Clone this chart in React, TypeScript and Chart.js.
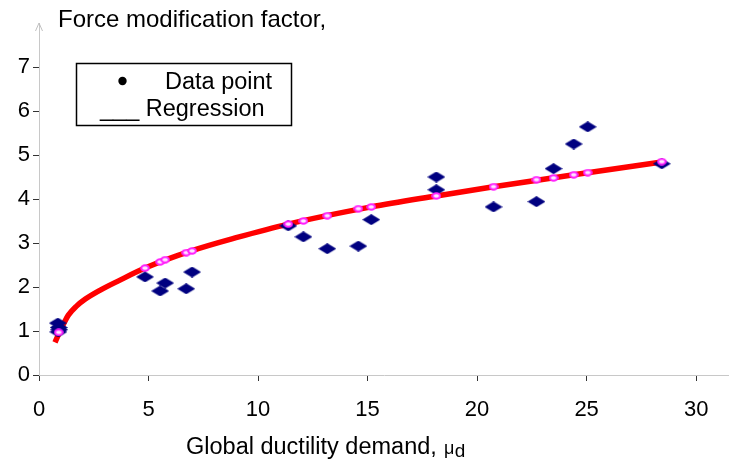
import React, { useEffect, useRef } from "react";
import { Chart, registerables } from "chart.js";

Chart.register(...registerables);

// Observed data points (diamonds)
const dataX = [0.86, 0.9, 0.88, 0.92, 4.84, 5.76, 5.53, 6.72, 6.99, 11.38, 12.07, 13.16, 14.58, 15.17, 18.14, 18.14, 20.75, 22.71, 23.49, 24.41, 25.05, 28.43];
const dataY = [1.18, 1.08, 0.98, 1.03, 2.23, 2.09, 1.91, 1.96, 2.34, 3.39, 3.14, 2.87, 2.93, 3.53, 4.5, 4.21, 3.82, 3.94, 4.69, 5.25, 5.64, 4.8];

// Regression-predicted values at data abscissas (pink rings)
const predX = [0.9, 4.84, 5.53, 5.76, 6.72, 6.99, 11.38, 12.07, 13.16, 14.58, 15.17, 18.14, 20.75, 22.71, 23.49, 24.41, 25.05, 28.43];
const predY = [0.97, 2.43, 2.57, 2.62, 2.78, 2.82, 3.43, 3.5, 3.62, 3.78, 3.82, 4.07, 4.28, 4.44, 4.48, 4.55, 4.6, 4.85];

// Regression curve
const curveX = [0.73, 0.85, 1.0, 1.15, 1.34, 1.7, 2.1, 2.8, 3.63, 4.84, 6.95, 9, 11.38, 15.17, 18.14, 20.75, 24.41, 28.43];
const curveY = [0.74, 0.88, 1.04, 1.19, 1.36, 1.56, 1.72, 1.93, 2.14, 2.43, 2.82, 3.12, 3.43, 3.82, 4.07, 4.28, 4.55, 4.84];

const xTicks = [0, 5, 10, 15, 20, 25, 30];
const yTicks = [0, 1, 2, 3, 4, 5, 6, 7];

const FONT = "'Liberation Sans', Arial, sans-serif";

function makeDiamond(): HTMLCanvasElement {
  const c = document.createElement("canvas");
  c.width = 18;
  c.height = 11;
  const g = c.getContext("2d")!;
  g.fillStyle = "#000080";
  g.beginPath();
  g.moveTo(9, 0);
  g.lineTo(18, 5.5);
  g.lineTo(9, 11);
  g.lineTo(0, 5.5);
  g.closePath();
  g.fill();
  return c;
}

function makeRing(): HTMLCanvasElement {
  const c = document.createElement("canvas");
  c.width = 10;
  c.height = 8;
  const g = c.getContext("2d")!;
  g.fillStyle = "#ffe8ff";
  g.strokeStyle = "#ff22ff";
  g.lineWidth = 2;
  g.beginPath();
  g.ellipse(5, 4, 3.8, 2.8, 0, 0, Math.PI * 2);
  g.fill();
  g.stroke();
  return c;
}

const decorPlugin = {
  id: "decor",
  afterDraw(chart: any) {
    const ctx = chart.ctx as CanvasRenderingContext2D;
    const area = chart.chartArea;
    ctx.save();
    // y-axis arrow
    ctx.strokeStyle = "#c0c0c0";
    ctx.lineWidth = 1;
    ctx.beginPath();
    ctx.moveTo(area.left - 3.5, area.top + 8);
    ctx.lineTo(area.left, area.top);
    ctx.lineTo(area.left + 3.5, area.top + 8);
    ctx.stroke();

    ctx.fillStyle = "#000";
    ctx.textBaseline = "alphabetic";
    ctx.textAlign = "left";
    // y title
    ctx.font = `24px ${FONT}`;
    ctx.fillText("Force modification factor,", 58, 26.5);

    // legend box
    ctx.strokeStyle = "#000";
    ctx.lineWidth = 1.5;
    ctx.strokeRect(76.5, 63.5, 215, 62);
    ctx.beginPath();
    ctx.arc(122.5, 81, 4.2, 0, Math.PI * 2);
    ctx.fill();
    ctx.font = `23.5px ${FONT}`;
    ctx.fillText("Data point", 165, 88.5);
    ctx.fillText("___ Regression", 100, 116);

    // x title with subscript
    const main = "Global ductility demand, ";
    ctx.font = `23.5px ${FONT}`;
    const w = ctx.measureText(main).width;
    const x0 = 186;
    ctx.fillText(main, x0, 454);
    ctx.font = `18px ${FONT}`;
    const mx = Math.max(x0 + w, 444);
    ctx.fillText("\u03bc", mx, 454);
    const wm = ctx.measureText("\u03bc").width;
    ctx.font = `19px ${FONT}`;
    ctx.fillText("d", mx + wm + 0.5, 456.5);
    ctx.restore();
  },
};

export default function App() {
  const ref = useRef<HTMLCanvasElement | null>(null);
  useEffect(() => {
    if (!ref.current) return;
    const diamond = makeDiamond();
    const ring = makeRing();
    const chart = new Chart(ref.current, {
      type: "scatter",
      data: {
        datasets: [
          {
            label: "Predicted",
            data: predX.map((x, i) => ({ x, y: predY[i] })),
            pointStyle: ring as any,
            pointRadius: 4,
            order: 1,
          },
          {
            label: "Data point",
            data: dataX.map((x, i) => ({ x, y: dataY[i] })),
            pointStyle: diamond as any,
            pointRadius: 6,
            order: 2,
          },
          {
            label: "Regression",
            data: curveX.map((x, i) => ({ x, y: curveY[i] })),
            showLine: true,
            borderColor: "#ff0000",
            borderWidth: 5.5,
            pointRadius: 0,
            cubicInterpolationMode: "monotone",
            order: 3,
          } as any,
        ],
      },
      options: {
        animation: false,
        responsive: false,
        events: [],
        layout: { padding: { top: 23, left: 0, right: 0, bottom: 0 } },
        plugins: { legend: { display: false }, tooltip: { enabled: false }, title: { display: false } },
        scales: {
          x: {
            type: "linear",
            min: 0,
            max: 31.5,
            afterBuildTicks: (axis: any) => {
              axis.ticks = xTicks.map((v) => ({ value: v }));
            },
            afterFit: (s: any) => {
              s.height = 93;
              s.paddingLeft = 0;
              s.paddingRight = 0;
            },
            grid: { drawOnChartArea: false, drawTicks: true, tickLength: 6, tickColor: "#333" },
            border: { display: true, color: "#c8c8c8", width: 1 },
            ticks: { color: "#000", font: { family: FONT, size: 22 }, padding: 16, maxRotation: 0, autoSkip: false },
          },
          y: {
            type: "linear",
            min: 0,
            max: 8,
            afterBuildTicks: (axis: any) => {
              axis.ticks = yTicks.map((v) => ({ value: v }));
            },
            afterFit: (s: any) => {
              s.width = 39;
              s.paddingTop = 0;
              s.paddingBottom = 0;
            },
            grid: { drawOnChartArea: false, drawTicks: true, tickLength: 6, tickColor: "#333" },
            border: { display: true, color: "#c8c8c8", width: 1 },
            ticks: { color: "#000", font: { family: FONT, size: 22 }, padding: 3, autoSkip: false },
          },
        },
      },
      plugins: [decorPlugin],
    });
    return () => chart.destroy();
  }, []);
  return (
    <div style={{ position: "fixed", left: 0, top: 0, width: 729, height: 468, overflow: "hidden", background: "#fff" }}>
      <canvas ref={ref} width={736} height={468} style={{ display: "block", width: 736, height: 468 }} />
    </div>
  );
}
